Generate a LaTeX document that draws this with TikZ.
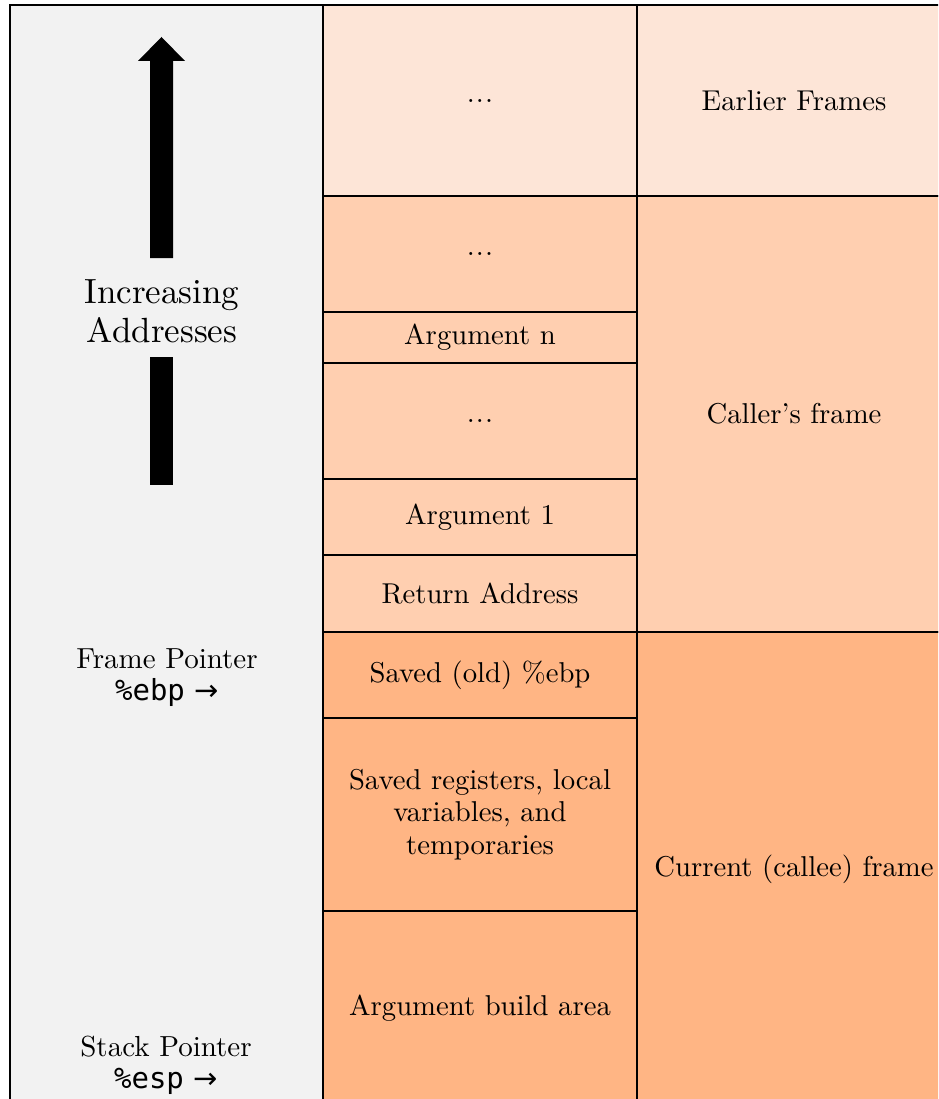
\documentclass[tikz,border=0pt]{standalone}
\usepackage{fontspec}
\setmainfont{lmroman10-regular.otf}
\newfontfamily\monofont{DejaVu Sans Mono}
\newfontfamily\arrowfont{DejaVu Sans}
\definecolor{leftbg}{HTML}{F2F2F2}
\definecolor{earlier}{HTML}{FDE5D7}
\definecolor{caller}{HTML}{FFCFB0}
\definecolor{callee}{HTML}{FFB584}
\newcommand{\mydots}{.\kern0.04em.\kern0.04em.}
\begin{document}
\begin{tikzpicture}[x=1pt,y=-1pt,
  cell/.style={draw=black, line width=2.8pt, inner sep=0pt, outer sep=0pt,
    align=center, anchor=north west, font=\fontsize{28.7}{32.5}\selectfont},
  lbl/.style={align=center, inner sep=0pt, font=\fontsize{29}{32}\selectfont},
  bigtext/.style={align=center, inner sep=0pt, font=\fontsize{35}{39}\selectfont}]
\useasboundingbox (0,0) rectangle (938,1099);
\clip (0,0) rectangle (938,1099);
% left column
\node[cell, fill=leftbg, minimum width=313pt, minimum height=1100pt] (left) at (10,5) {};
% middle column
\node[cell, fill=earlier, minimum width=314pt, minimum height=191pt] (m1) at (323,5) {\mydots};
\node[cell, fill=caller, minimum width=314pt, minimum height=116pt] (m2) at (323,196) {\mydots};
\node[cell, fill=caller, minimum width=314pt, minimum height=51pt] (m3) at (323,312) {Argument n};
\node[cell, fill=caller, minimum width=314pt, minimum height=116pt] (m4) at (323,363) {\mydots};
\node[cell, fill=caller, minimum width=314pt, minimum height=76pt] (m5) at (323,479) {Argument 1};
\node[cell, fill=caller, minimum width=314pt, minimum height=77pt] (m6) at (323,555) {Return Address};
\node[cell, fill=callee, minimum width=314pt, minimum height=86pt] (m7) at (323,632) {\raisebox{-3pt}{Saved (old) \%ebp}};
\node[cell, fill=callee, minimum width=314pt, minimum height=193pt] (m8) at (323,718) {Saved registers, local\\variables, and\\temporaries};
\node[cell, fill=callee, minimum width=314pt, minimum height=194pt] (m9) at (323,911) {Argument build area};
% right column
\node[cell, fill=earlier, minimum width=314pt, minimum height=191pt] (r1) at (637,5) {Earlier Frames};
\node[cell, fill=caller, minimum width=314pt, minimum height=436pt] (r2) at (637,196) {Caller’s frame};
\node[cell, fill=callee, minimum width=314pt, minimum height=474pt] (r3) at (637,632) {\raisebox{-3pt}{Current (callee) frame}};
% arrow
\fill[black] (150,258) -- (150,61) -- (138,61) -- (161.5,37) -- (185,61) -- (173,61) -- (173,258) -- cycle;
\fill[black] (150,357) rectangle (173,485);
\node[bigtext] (inc) at (162,311) {Increasing\\Addresses};
% pointer labels
\node[lbl] (fp) at (167,678) {Frame Pointer\\{\monofont\%ebp} {\arrowfont →}};
\node[lbl] (sp) at (166,1065) {Stack Pointer\\{\monofont\%esp} {\arrowfont →}};
\end{tikzpicture}
\end{document}
